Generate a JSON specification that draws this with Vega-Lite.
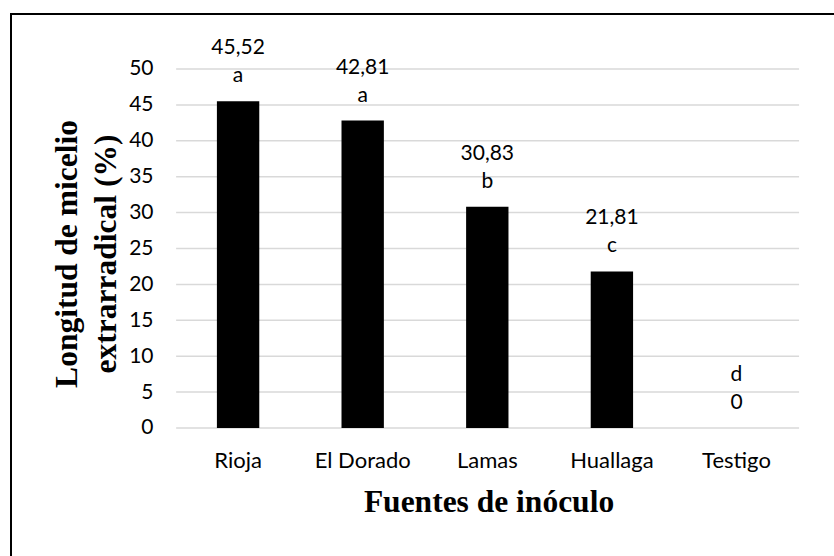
{
  "$schema": "https://vega.github.io/schema/vega-lite/v6.json",
  "autosize": {"type": "none"},
  "padding": {"left": 11, "top": 14, "right": 0, "bottom": 0},
  "width": 823,
  "height": 542,
  "background": "#ffffff",
  "config": {
    "font": "Lato",
    "view": {"stroke": "#000000", "strokeWidth": 2, "strokeDash": [823, 1365, 542]},
    "axis": {"labelColor": "#000000", "titleColor": "#000000"}
  },
  "datasets": {
    "bars": [
      {"fuente": "Rioja", "valor": 45.52, "sup": "45,52", "inf": "a"},
      {"fuente": "El Dorado", "valor": 42.81, "sup": "42,81", "inf": "a"},
      {"fuente": "Lamas", "valor": 30.83, "sup": "30,83", "inf": "b"},
      {"fuente": "Huallaga", "valor": 21.81, "sup": "21,81", "inf": "c"},
      {"fuente": "Testigo", "valor": 0, "sup": "d", "inf": "0"}
    ],
    "grid": [
      {"v": 0}, {"v": 5}, {"v": 10}, {"v": 15}, {"v": 20}, {"v": 25},
      {"v": 30}, {"v": 35}, {"v": 40}, {"v": 45}, {"v": 50}
    ]
  },
  "encoding": {
    "x": {
      "field": "fuente",
      "type": "nominal",
      "sort": null,
      "scale": {
        "domain": ["Rioja", "El Dorado", "Lamas", "Huallaga", "Testigo"],
        "paddingInner": 0.395,
        "paddingOuter": 1,
        "align": 0.76
      },
      "axis": {
        "orient": "bottom",
        "offset": -128,
        "domain": false,
        "ticks": false,
        "tickSize": 0,
        "labelAngle": 0,
        "labelFont": "Lato",
        "labelFontSize": 22,
        "labelBaseline": "alphabetic",
        "labelPadding": 39,
        "title": "Fuentes de inóculo",
        "titleFont": "Liberation Serif",
        "titleFontSize": 31.5,
        "titleFontWeight": "bold",
        "titleAlign": "center",
        "titleBaseline": "alphabetic",
        "titleX": 477.5,
        "titleY": 83.7
      }
    },
    "y": {
      "field": "valor",
      "type": "quantitative",
      "scale": {"domain": [-17.83, 57.66], "nice": false, "zero": false},
      "axis": {
        "orient": "left",
        "offset": -165,
        "values": [0, 5, 10, 15, 20, 25, 30, 35, 40, 45, 50],
        "grid": false,
        "domain": false,
        "ticks": false,
        "tickSize": 0,
        "labelFont": "Lato",
        "labelFontSize": 21,
        "labelPadding": 23,
        "title": ["Longitud de micelio", "extrarradical (%)"],
        "titleFont": "Liberation Serif",
        "titleFontSize": 31.5,
        "titleFontWeight": "bold",
        "titleAngle": 270,
        "titleAlign": "center",
        "titleBaseline": "alphabetic",
        "titleLineHeight": 39,
        "titleX": -99.3,
        "titleY": 239.5
      }
    }
  },
  "layer": [
    {
      "data": {"name": "grid"},
      "mark": {"type": "rule", "color": "#d9d9d9", "strokeWidth": 1.5},
      "encoding": {
        "x": {"datum": "Rioja", "bandPosition": -0.322},
        "x2": {"datum": "Testigo", "bandPosition": 1.33},
        "y": {"field": "v", "type": "quantitative"}
      }
    },
    {
      "data": {"name": "bars"},
      "mark": {"type": "bar", "color": "#000000", "width": {"band": 0.562}},
      "encoding": {
        "y2": {"datum": 0}
      }
    },
    {
      "data": {"name": "bars"},
      "mark": {"type": "text", "font": "Lato", "fontSize": 21, "color": "#000000", "baseline": "alphabetic", "dy": -47},
      "encoding": {"text": {"field": "sup"}}
    },
    {
      "data": {"name": "bars"},
      "mark": {"type": "text", "font": "Lato", "fontSize": 21, "color": "#000000", "baseline": "alphabetic", "dy": -19},
      "encoding": {"text": {"field": "inf"}}
    }
  ]
}
